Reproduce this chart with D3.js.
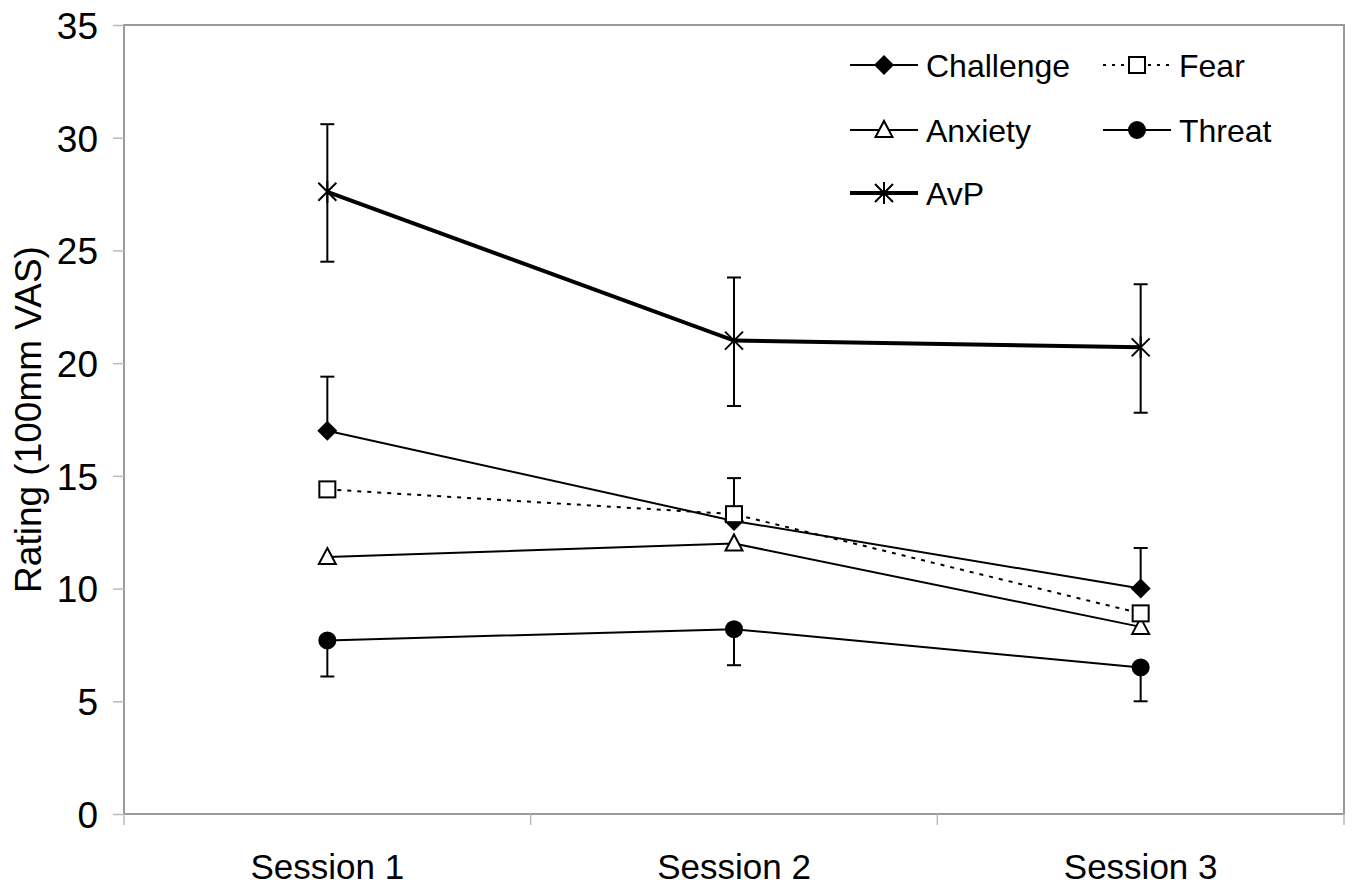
<!DOCTYPE html>
<html>
<head>
<meta charset="utf-8">
<script src="https://cdn.jsdelivr.net/npm/d3@7"></script>
<style>
  body { margin: 0; background: #fff; }
  text { font-family: "Liberation Sans", Arial, sans-serif; fill: #000; }
</style>
</head>
<body>
<svg id="chart" width="1354" height="886"></svg>
<script>
var sessions = ["Session 1", "Session 2", "Session 3"];
var yTicks = [0, 5, 10, 15, 20, 25, 30, 35];

// means and error bar ends
var avp = [27.6, 21.0, 20.7];
var avpHi = [30.6, 23.8, 23.5];
var avpLo = [24.5, 18.1, 17.8];
var challenge = [17.0, 13.0, 10.0];
var challengeHi = [19.4, 14.9, 11.8];
var fear = [14.4, 13.3, 8.9];
var anxiety = [11.4, 12.0, 8.3];
var threat = [7.7, 8.2, 6.5];
var threatLo = [6.1, 6.6, 5.0];

var svg = d3.select("#chart");
var pLeft = 124, pRight = 1344, pTop = 25, pBottom = 814;

var x = d3.scaleBand().domain(sessions).range([pLeft, pRight]);
var y = d3.scaleLinear().domain([0, 35]).range([pBottom, pTop]);
var cx = function(d, i) { return x(sessions[i]) + x.bandwidth() / 2; };

// frame
svg.append("rect")
  .attr("x", pLeft).attr("y", pTop)
  .attr("width", pRight - pLeft).attr("height", pBottom - pTop)
  .attr("fill", "none").attr("stroke", "#9a9a9a").attr("stroke-width", 2);

// y axis
var yAxis = svg.append("g")
  .attr("transform", "translate(" + pLeft + ",0)")
  .call(d3.axisLeft(y).tickValues(yTicks).tickSize(11).tickPadding(15));
yAxis.select(".domain").remove();
yAxis.selectAll(".tick line").attr("stroke", "#bbb").attr("stroke-width", 1.5);
yAxis.selectAll(".tick text").attr("font-size", 37).attr("dy", "0.36em")
  .style("font-family", "'Liberation Sans', Arial, sans-serif").style("fill", "#000");

// x axis: ticks at band boundaries
var xAxis = svg.append("g").attr("transform", "translate(0," + pBottom + ")");
var bounds = sessions.map(function(s) { return x(s); }).concat([pRight]);
xAxis.selectAll("line").data(bounds).join("line")
  .attr("x1", function(d) { return d; }).attr("x2", function(d) { return d; })
  .attr("y1", 0).attr("y2", 11)
  .attr("stroke", "#bbb").attr("stroke-width", 1.5);
xAxis.selectAll("text").data(sessions).join("text")
  .attr("x", function(d) { return x(d) + x.bandwidth() / 2; })
  .attr("y", 65)
  .attr("text-anchor", "middle")
  .attr("font-size", 35)
  .text(function(d) { return d; });

svg.append("text")
  .attr("transform", "translate(41," + ((pTop + pBottom) / 2) + ") rotate(-90)")
  .attr("text-anchor", "middle")
  .attr("font-size", 37)
  .text("Rating (100mm VAS)");

var line = d3.line().x(cx).y(function(d) { return y(d); });

function errBars(lo, hi) {
  var g = svg.append("g").attr("stroke", "#000").attr("stroke-width", 2);
  lo.forEach(function(v, i) {
    var px = cx(null, i);
    g.append("line").attr("x1", px).attr("x2", px).attr("y1", y(v)).attr("y2", y(hi[i]));
    g.append("line").attr("x1", px - 7).attr("x2", px + 7).attr("y1", y(hi[i])).attr("y2", y(hi[i]));
    g.append("line").attr("x1", px - 7).attr("x2", px + 7).attr("y1", y(v)).attr("y2", y(v));
  });
}
function halfBars(base, end) {
  var g = svg.append("g").attr("stroke", "#000").attr("stroke-width", 2);
  base.forEach(function(v, i) {
    var px = cx(null, i);
    g.append("line").attr("x1", px).attr("x2", px).attr("y1", y(v)).attr("y2", y(end[i]));
    g.append("line").attr("x1", px - 7).attr("x2", px + 7).attr("y1", y(end[i])).attr("y2", y(end[i]));
  });
}

errBars(avpLo, avpHi);
halfBars(challenge, challengeHi);
halfBars(threat, threatLo);

function drawMarker(g, type, px, py) {
  if (type === "diamond") {
    g.append("path").attr("d", "M" + px + "," + (py - 10) + "L" + (px + 10) + "," + py + "L" + px + "," + (py + 10) + "L" + (px - 10) + "," + py + "Z")
      .attr("fill", "#000");
  } else if (type === "square") {
    g.append("rect").attr("x", px - 8).attr("y", py - 8).attr("width", 16).attr("height", 16)
      .attr("fill", "#fff").attr("stroke", "#000").attr("stroke-width", 2);
  } else if (type === "triangle") {
    g.append("path").attr("d", "M" + px + "," + (py - 9) + "L" + (px + 8.5) + "," + (py + 7) + "L" + (px - 8.5) + "," + (py + 7) + "Z")
      .attr("fill", "#fff").attr("stroke", "#000").attr("stroke-width", 2);
  } else if (type === "circle") {
    g.append("circle").attr("cx", px).attr("cy", py).attr("r", 9).attr("fill", "#000");
  } else if (type === "star") {
    var s = 9;
    g.append("path")
      .attr("d", "M" + (px - s) + "," + (py - s) + "L" + (px + s) + "," + (py + s) +
        "M" + (px - s) + "," + (py + s) + "L" + (px + s) + "," + (py - s) +
        "M" + px + "," + (py - s - 2) + "L" + px + "," + (py + s + 2))
      .attr("stroke", "#000").attr("stroke-width", 2).attr("fill", "none");
  }
}

var series = [
  { name: "Threat", values: threat, marker: "circle", width: 2, dash: null },
  { name: "Anxiety", values: anxiety, marker: "triangle", width: 2, dash: null },
  { name: "Challenge", values: challenge, marker: "diamond", width: 2, dash: null },
  { name: "Fear", values: fear, marker: "square", width: 2, dash: "4,6" },
  { name: "AvP", values: avp, marker: "star", width: 4, dash: null }
];

series.forEach(function(s) {
  svg.append("path").datum(s.values)
    .attr("d", line)
    .attr("fill", "none").attr("stroke", "#000")
    .attr("stroke-width", s.width)
    .attr("stroke-dasharray", s.dash);
  var g = svg.append("g");
  s.values.forEach(function(v, i) { drawMarker(g, s.marker, cx(null, i), y(v)); });
});

// legend
var legendItems = [
  { name: "Challenge", marker: "diamond", width: 2, dash: null, lx: 850, ly: 65 },
  { name: "Fear", marker: "square", width: 2, dash: "3,6", lx: 1103, ly: 65 },
  { name: "Anxiety", marker: "triangle", width: 2, dash: null, lx: 850, ly: 130 },
  { name: "Threat", marker: "circle", width: 2, dash: null, lx: 1103, ly: 130 },
  { name: "AvP", marker: "star", width: 4, dash: null, lx: 850, ly: 193 }
];
var lg = svg.append("g");
legendItems.forEach(function(d) {
  lg.append("line").attr("x1", d.lx).attr("x2", d.lx + 68)
    .attr("y1", d.ly).attr("y2", d.ly)
    .attr("stroke", "#000").attr("stroke-width", d.width)
    .attr("stroke-dasharray", d.dash);
  drawMarker(lg, d.marker, d.lx + 34, d.ly);
  lg.append("text").attr("x", d.lx + 76).attr("y", d.ly).attr("dy", "0.36em")
    .attr("font-size", 32).text(d.name);
});
</script>
</body>
</html>
